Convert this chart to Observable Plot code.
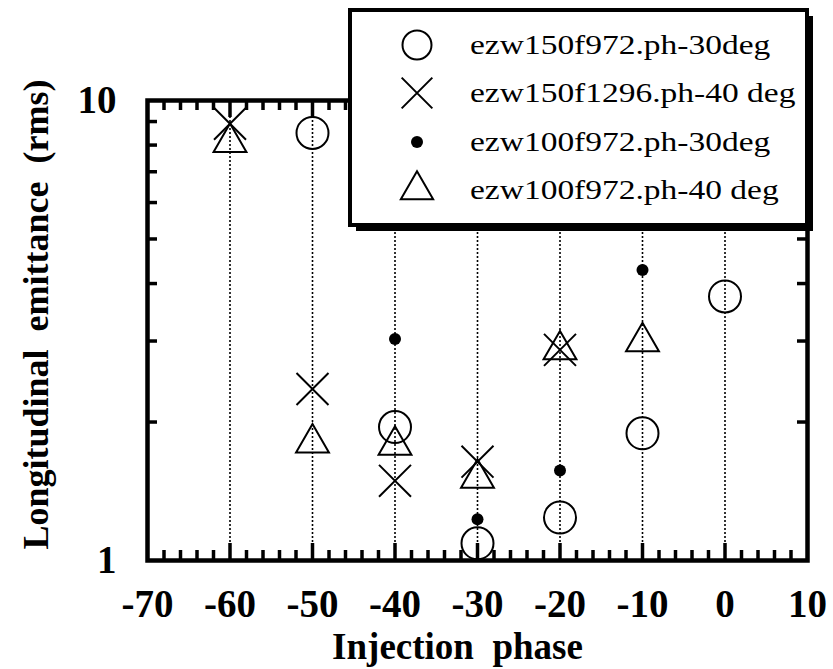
<!DOCTYPE html>
<html>
<head>
<meta charset="utf-8">
<script src="https://cdn.jsdelivr.net/npm/d3@7"></script>
<script src="https://cdn.jsdelivr.net/npm/@observablehq/plot@0.6"></script>
<style>
html, body { margin: 0; padding: 0; background: #fff; }
#chart { position: relative; width: 833px; height: 669px; overflow: hidden; background: #fff; }
#chart svg text { font-family: 'Liberation Serif', 'Times New Roman', serif; }
</style>
</head>
<body>
<div id="chart"></div>
<script>
// ---- data ----
const seriesNames = ["ezw150f972.ph-30deg", "ezw150f1296.ph-40 deg", "ezw100f972.ph-30deg", "ezw100f972.ph-40 deg"];
const phaseA = [-50, -40, -30, -20, -10, 0];
const emitA  = [8.5, 1.95, 1.09, 1.24, 1.89, 3.75];
const phaseB = [-60, -50, -40, -30, -20];
const emitB  = [8.9, 2.36, 1.49, 1.64, 2.87];
const phaseC = [-40, -30, -20, -10];
const emitC  = [3.03, 1.23, 1.57, 4.28];
const phaseD = [-60, -50, -40, -30, -20, -10];
const emitD  = [8.1, 1.80, 1.78, 1.51, 2.87, 2.99];
const xTickValues = [-70, -60, -50, -40, -30, -20, -10, 0, 10];
const yTickValues = [1, 10];
const yMinorTicks = [2, 3, 4, 5, 6, 7, 8, 9];
const guidePhases = [-60, -50, -40, -30, -20, -10, 0];
const xMinorTicks = d3.range(-70, 11, 2).filter(v => v % 10 !== 0);
const xTitle = "Injection\u00a0 phase";
const yTitle = "Longitudinal\u00a0 emittance\u00a0 (rms)";

// ---- layout ----
const W = 833, H = 669, mL = 147, mR = 26, mT = 100, mB = 109;
const innerW = W - mL - mR, innerH = H - mT - mB;
const font = "'Liberation Serif', 'Times New Roman', serif";

const pts = (xs, ys) => xs.map((x, i) => ({x, y: ys[i]}));

const plot = Plot.plot({
  width: W, height: H,
  marginLeft: mL, marginRight: mR, marginTop: mT, marginBottom: mB,
  x: {domain: [-70, 10]},
  y: {type: "log", domain: [1, 10]},
  style: {fontFamily: font, background: "white", color: "black", overflow: "visible"},
  marks: [
    Plot.ruleX(guidePhases, {x: d => d, stroke: "black", strokeWidth: 1.6, strokeDasharray: "2,2"}),
    Plot.tickX(xMinorTicks, {x: d => d, insetTop: innerH - 10, strokeWidth: 3.5, stroke: "black"}),
    Plot.tickX(xMinorTicks, {x: d => d, insetBottom: innerH - 10, strokeWidth: 3.5, stroke: "black"}),
    Plot.tickX(guidePhases, {x: d => d, insetTop: innerH - 17, strokeWidth: 3.5, stroke: "black"}),
    Plot.tickX(guidePhases, {x: d => d, insetBottom: innerH - 17, strokeWidth: 3.5, stroke: "black"}),
    Plot.tickY(yMinorTicks, {y: d => d, insetRight: innerW - 10, strokeWidth: 3.5, stroke: "black"}),
    Plot.tickY(yMinorTicks, {y: d => d, insetLeft: innerW - 10, strokeWidth: 3.5, stroke: "black"}),
    Plot.frame({stroke: "black", strokeWidth: 4.5}),
    Plot.axisX(xTickValues, {anchor: "bottom", tickSize: 0, tickPadding: 29, fontSize: 39, fontWeight: "bold", label: null, tickFormat: d => String(d)}),
    Plot.axisY(yTickValues, {anchor: "left", tickSize: 0, tickPadding: 31, fontSize: 39, fontWeight: "bold", label: null, tickFormat: d => String(d)}),
    Plot.text([xTitle], {frameAnchor: "bottom", text: d => d, textAnchor: "middle", dx: -20, dy: 98, lineAnchor: "bottom", fontSize: 37, fontWeight: "bold"}),
    Plot.text([yTitle], {frameAnchor: "left", text: d => d, textAnchor: "middle", rotate: -90, dx: -100, dy: -16, lineAnchor: "bottom", fontSize: 36, fontWeight: "bold"}),
    Plot.dot(pts(phaseA, emitA), {x: "x", y: "y", symbol: "circle", r: 16, stroke: "black", strokeWidth: 2, fill: "none"}),
    Plot.dot(pts(phaseB, emitB), {x: "x", y: "y", symbol: "times", r: 14.6, stroke: "black", strokeWidth: 2}),
    Plot.dot(pts(phaseC, emitC), {x: "x", y: "y", symbol: "circle", r: 6, fill: "black", stroke: "none"}),
    Plot.dot(pts(phaseD, emitD), {x: "x", y: "y", symbol: "triangle", r: 12.2, stroke: "black", strokeWidth: 2, fill: "none"})
  ]
});
document.getElementById("chart").appendChild(plot);

// ---- legend (overlay box with drop shadow) ----
const legendSymbols = [
  {type: d3.symbolCircle, size: Math.PI * 14.5 * 14.5, fill: "none"},
  {type: d3.symbolTimes, size: Math.PI * 14 * 14, fill: "none"},
  {type: d3.symbolCircle, size: Math.PI * 6 * 6, fill: "black"},
  {type: d3.symbolTriangle, size: Math.PI * 12 * 12, fill: "none"}
];
const lg = d3.select("#chart").append("svg")
  .attr("width", W).attr("height", H)
  .style("position", "absolute").style("left", "0px").style("top", "0px");
lg.append("rect").attr("x", 356).attr("y", 16).attr("width", 457).attr("height", 215).attr("fill", "black");
lg.append("rect").attr("x", 350).attr("y", 10).attr("width", 457).attr("height", 215)
  .attr("fill", "white").attr("stroke", "black").attr("stroke-width", 4);
const rowY = [45, 93, 142, 190];
seriesNames.forEach((name, i) => {
  const s = legendSymbols[i];
  lg.append("path")
    .attr("transform", `translate(417,${rowY[i]})`)
    .attr("d", d3.symbol(s.type, s.size)())
    .attr("fill", s.fill)
    .attr("stroke", s.fill === "none" ? "black" : "none")
    .attr("stroke-width", 2);
  const t = lg.append("text")
    .attr("x", 470).attr("y", rowY[i] + 9)
    .attr("font-size", 27)
    .attr("fill", "black")
    .style("font-family", font)
    .style("white-space", "pre")
    .text(name);
  const natural = t.node().getComputedTextLength();
  t.attr("textLength", natural * 1.24).attr("lengthAdjust", "spacingAndGlyphs");
});
</script>
</body>
</html>
